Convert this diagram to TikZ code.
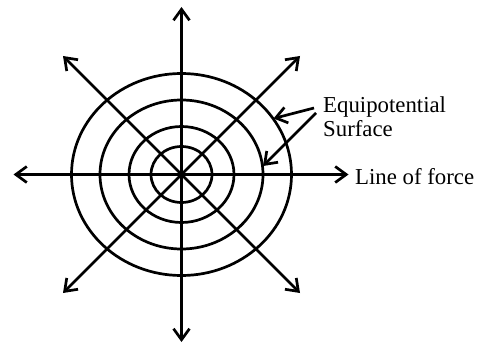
\documentclass[tikz,border=0pt]{standalone}
\usepackage{fontspec}
\setmainfont{Liberation Serif}
\usetikzlibrary{arrows.meta}
\begin{document}
\begin{tikzpicture}[x=1pt,y=-1pt,
  fl/.style={line width=2.7pt,-{Straight Barb[length=11pt,width=16pt,line width=2.7pt]}},
  ring/.style={line width=2.7pt},
  lbl/.style={anchor=base west,inner sep=0pt,font=\fontsize{22.8}{25}\selectfont}]
\useasboundingbox (0,0) rectangle (477,345);
\coordinate (c) at (181.5,174.5);
\coordinate (tn) at (181.5,7);
\coordinate (ts) at (181.5,342);
\coordinate (tw) at (13.5,174.5);
\coordinate (te) at (348.5,174.5);
\coordinate (tnw) at (63,56);
\coordinate (tne) at (300,56);
\coordinate (tsw) at (63,293);
\coordinate (tse) at (300,293);
\foreach \a/\b in {30.5/28,52.5/48,81.5/74.5,110/101}
  \draw[ring] (c) ellipse [x radius=\a, y radius=\b];
\foreach \t in {tn,ts,tw,te,tnw,tne,tsw,tse}
  \draw[fl] (c) -- (\t);
\node[lbl] (eq) at (323,113) {Equipotential};
\node[lbl] (surf) at (323,136.5) {Surface};
\node[lbl] (lof) at (355,184) {Line of force};
\coordinate (a1s) at (314,108);
\coordinate (a1e) at (273.5,118.5);
\coordinate (a2s) at (316,113);
\coordinate (a2e) at (263,166);
\draw[fl] (a1s) -- (a1e);
\draw[fl] (a2s) -- (a2e);
\end{tikzpicture}
\end{document}
